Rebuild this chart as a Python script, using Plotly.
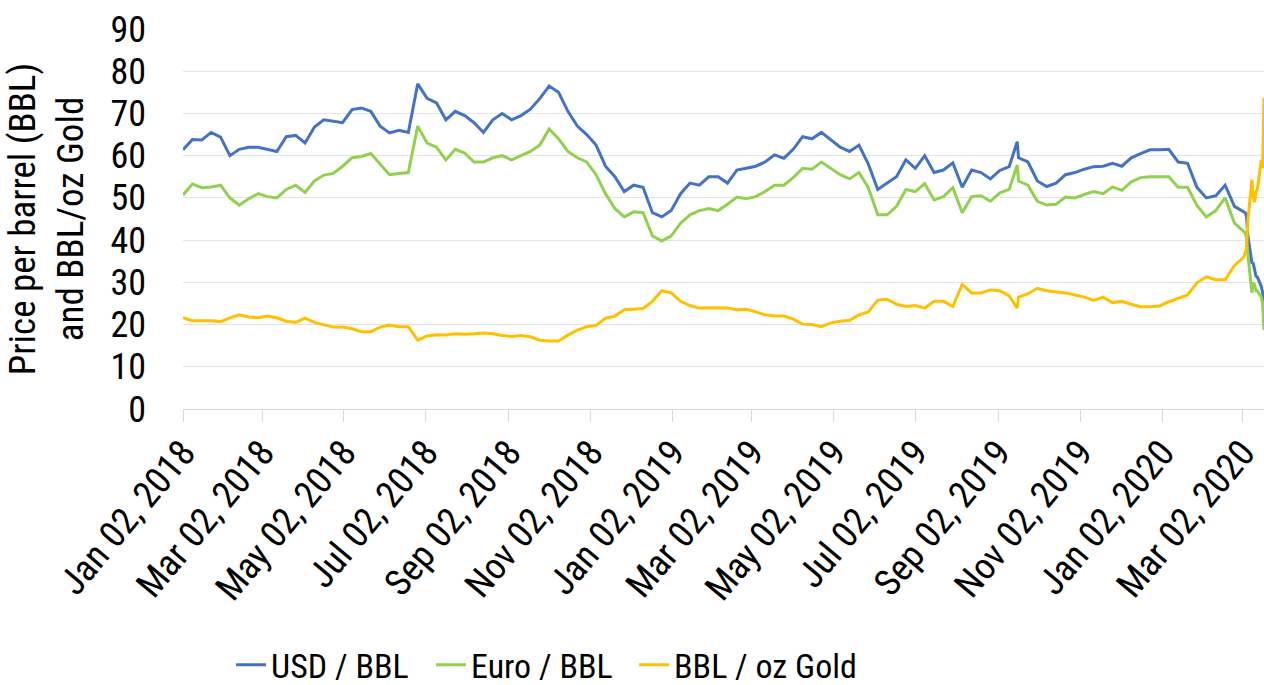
import pandas as pd
import plotly.graph_objects as go

# Weekly observation dates (Tuesdays) plus extra daily dates around notable moves
weekly_dates = [d.strftime("%Y-%m-%d") for d in pd.date_range("2018-01-02", "2020-03-03", freq="7D")]
extra_dates = ["2019-09-16", "2020-03-04", "2020-03-05", "2020-03-06", "2020-03-09", "2020-03-10",
               "2020-03-11", "2020-03-12", "2020-03-13", "2020-03-16", "2020-03-17", "2020-03-18"]
dates = sorted(weekly_dates + extra_dates)

usd_bbl = [
    61.4, 63.8, 63.7, 65.5, 64.4, 60.0, 61.5, 62.0, 62.0, 61.5,
    61.0, 64.5, 64.8, 63.0, 66.8, 68.5, 68.2, 67.8, 70.9, 71.3,
    70.5, 67.0, 65.4, 66.0, 65.5, 77.0, 73.6, 72.5, 68.5, 70.5,
    69.5, 67.8, 65.5, 68.5, 70.0, 68.5, 69.5, 71.0, 73.5, 76.5,
    75.0, 70.5, 67.0, 65.0, 62.5, 57.5, 55.0, 51.5, 53.0, 52.5,
    46.5, 45.5, 47.0, 51.0, 53.5, 53.0, 55.0, 55.0, 53.5, 56.6,
    57.0, 57.5, 58.5, 60.2, 59.4, 61.5, 64.5, 64.0, 65.5, 63.7,
    62.0, 61.0, 62.5, 58.0, 52.0, 53.5, 55.0, 59.0, 57.0, 60.0,
    56.0, 56.6, 58.3, 52.5, 56.6, 56.0, 54.5, 56.5, 57.4,
    63.3,
    59.5, 58.5, 54.0, 52.7, 53.5, 55.5, 56.0, 56.8, 57.4, 57.5,
    58.2, 57.5, 59.5, 60.5, 61.4, 61.4, 61.5, 58.5, 58.2, 52.5,
    50.0, 50.5, 53.0, 48.0, 46.8,
    46.5, 45.5, 41.0, 34.6, 34.5, 33.0, 31.5, 31.3, 29.0, 27.5, 20.5,
]

euro_bbl = [
    50.7, 53.3, 52.4, 52.6, 53.0, 50.0, 48.3, 49.8, 51.0, 50.3,
    50.0, 52.0, 53.0, 51.3, 54.0, 55.4, 55.8, 57.5, 59.5, 59.8,
    60.5, 58.0, 55.5, 55.8, 56.0, 67.0, 63.0, 62.0, 59.0, 61.5,
    60.6, 58.5, 58.5, 59.5, 60.0, 59.0, 60.0, 61.0, 62.5, 66.3,
    64.0, 61.0, 59.5, 58.5, 55.5, 51.0, 47.5, 45.5, 46.7, 46.5,
    41.0, 39.8, 41.0, 44.0, 46.0, 47.0, 47.5, 47.0, 48.5, 50.2,
    49.8, 50.3, 51.5, 53.0, 53.0, 54.8, 57.0, 56.8, 58.5, 57.0,
    55.5, 54.5, 56.0, 52.4, 46.0, 46.0, 48.0, 52.0, 51.5, 53.4,
    49.5, 50.3, 52.4, 46.5, 50.3, 50.5, 49.2, 51.2, 52.0,
    57.8,
    54.0, 53.0, 49.2, 48.3, 48.5, 50.2, 50.0, 50.8, 51.5, 51.0,
    52.6, 51.8, 53.8, 54.8, 55.0, 55.0, 55.0, 52.5, 52.5, 48.2,
    45.5, 47.0, 50.0, 44.0, 42.0,
    41.7, 40.5, 36.5, 27.5, 30.0, 29.4, 28.0, 28.0, 26.5, 25.0, 18.7,
]

bbl_oz_gold = [
    21.6, 20.9, 20.9, 20.9, 20.7, 21.6, 22.3, 21.8, 21.6, 22.0,
    21.6, 20.8, 20.5, 21.5, 20.5, 19.9, 19.4, 19.4, 19.0, 18.3,
    18.3, 19.4, 19.9, 19.5, 19.5, 16.3, 17.3, 17.6, 17.5, 17.8,
    17.7, 17.8, 18.0, 17.8, 17.4, 17.2, 17.4, 17.1, 16.3, 16.1,
    16.1, 17.5, 18.7, 19.5, 19.8, 21.5, 22.0, 23.5, 23.6, 23.8,
    25.5, 28.0, 27.5, 25.5, 24.5, 23.9, 24.0, 24.0, 23.9, 23.5,
    23.6, 23.0, 22.3, 22.0, 22.0, 21.3, 20.1, 20.0, 19.5, 20.4,
    20.8, 21.0, 22.3, 23.0, 25.8, 26.0, 24.8, 24.3, 24.5, 23.9,
    25.5, 25.5, 24.3, 29.5, 27.5, 27.5, 28.2, 28.0, 26.8,
    23.9,
    26.5, 27.3, 28.6, 28.0, 27.8, 27.5, 27.0, 26.5, 25.7, 26.5,
    25.2, 25.5, 24.8, 24.2, 24.2, 24.4, 25.4, 26.2, 27.0, 29.9,
    31.3, 30.6, 30.6, 34.0, 36.0,
    37.0, 38.0, 44.8, 54.3, 50.0, 49.0, 51.4, 52.0, 59.0, 57.0, 73.7,
]

series_names = ["USD / BBL", "Euro / BBL", "BBL / oz Gold"]
series_colors = ["#4472C4", "#92D050", "#FFC000"]

x_tick_dates = ["2018-01-02", "2018-03-02", "2018-05-02", "2018-07-02", "2018-09-02", "2018-11-02",
                "2019-01-02", "2019-03-02", "2019-05-02", "2019-07-02", "2019-09-02", "2019-11-02",
                "2020-01-02", "2020-03-02"]
x_tick_labels = [pd.Timestamp(d).strftime("%b %d, %Y") for d in x_tick_dates]

FONT = "Roboto Condensed, Liberation Sans Narrow, DejaVu Sans Condensed, Arial Narrow, sans-serif"

legend_ids = ["legend", "legend2", "legend3"]
legend_x = [0.1828, 0.341, 0.5016]

fig = go.Figure()
for name, vals, col, lid in zip(series_names, [usd_bbl, euro_bbl, bbl_oz_gold], series_colors, legend_ids):
    fig.add_trace(go.Scatter(x=dates, y=vals, mode="lines", name=name, legend=lid,
                             line=dict(color=col, width=3)))

legend_style = dict(orientation="h", xref="container", yref="container",
                    xanchor="left", y=0.029, yanchor="middle",
                    font=dict(size=34), bgcolor="rgba(0,0,0,0)")

fig.update_layout(
    width=1264, height=685,
    margin=dict(l=183, r=0, t=29, b=276, autoexpand=False),
    paper_bgcolor="white", plot_bgcolor="white",
    font=dict(family=FONT, color="black"),
    showlegend=True,
    legend=dict(x=legend_x[0], **legend_style),
    legend2=dict(x=legend_x[1], **legend_style),
    legend3=dict(x=legend_x[2], **legend_style),
    xaxis=dict(type="date", range=["2018-01-02", "2020-03-18"],
               tickvals=x_tick_dates, ticktext=x_tick_labels, tickangle=-50,
               tickfont=dict(size=37), showgrid=False, showline=True,
               linecolor="#D9D9D9", linewidth=1, ticks="outside", ticklen=12,
               tickcolor="#D9D9D9", zeroline=False, ticklabelstandoff=-6),
    yaxis=dict(range=[0, 90], dtick=10, tickfont=dict(size=36),
               gridcolor="#E4E4E4", gridwidth=1, showline=False, zeroline=False,
               ticks="", ticklabelstandoff=36,
               title=dict(text="Price per barrel (BBL)<br>and BBL/oz Gold",
                          font=dict(size=37), standoff=15)),
)

fig.write_html("out.html",
               config={"displayModeBar": False},
               post_script="document.body.style.margin='0';document.body.style.overflow='hidden';")
